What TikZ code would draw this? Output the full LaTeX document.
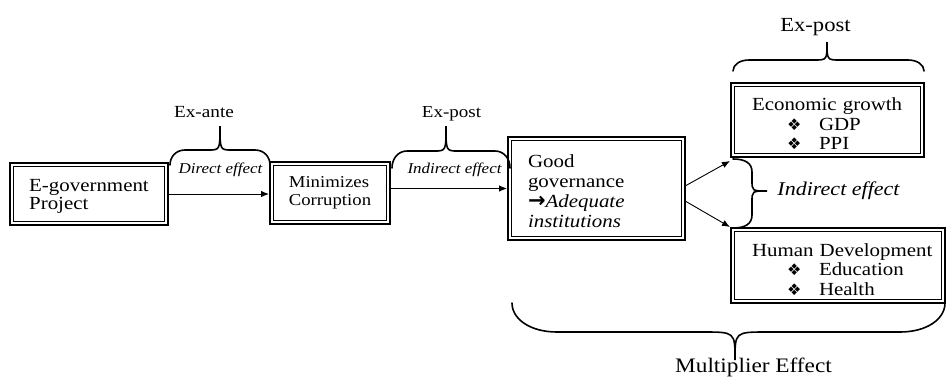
\documentclass[tikz,border=0pt]{standalone}
\usepackage{fontspec}
\setmainfont{Liberation Serif}[FakeStretch=1.13]
\newfontfamily\symfont{DejaVu Sans}
\usetikzlibrary{arrows.meta}
\newcommand\bul{{\symfont\fontsize{16}{16}\selectfont ❖}}
\newcommand\myarr{{\symfont\bfseries\fontsize{21}{21}\selectfont →}}
\newcommand\hbrace[8]{%
  \draw[bracestyle] (#1,#3) .. controls (#1,{#4+0.45*(#3-#4)}) and ({#1+0.4*#7},#4) .. ({#1+#7},#4) -- ({#5-#8},#4)
    .. controls (#5,#4) .. (#5,#6) .. controls (#5,#4) .. ({#5+#8},#4)
    -- ({#2-#7},#4) .. controls ({#2-0.4*#7},#4) and (#2,{#4+0.45*(#3-#4)}) .. (#2,#3);}
\tikzset{
  dbox/.style={draw, line width=2pt, inner sep=0pt,
    path picture={\draw[line width=0.9pt]
      ([shift={(3.5pt,-3.5pt)}]path picture bounding box.north west) rectangle
      ([shift={(-3.5pt,3.5pt)}]path picture bounding box.south east);}},
  conn/.style={line width=0.9pt, -{Latex[length=8pt,width=6.5pt]}},
  bracestyle/.style={line width=1.6pt, line cap=round},
  lbl/.style={inner sep=0pt, anchor=base},
}
\begin{document}
\begin{tikzpicture}[x=1pt,y=-1pt]
\useasboundingbox[fill=white] (0,0) rectangle (947,378);

% boxes
\node[dbox, minimum width=158pt, minimum height=62pt, align=left,
  font=\fontsize{18.5}{17.6}\selectfont] (egov) at (89,194) {\rule{0pt}{17pt}E-government\\Project};
\node[dbox, minimum width=120pt, minimum height=62pt, align=left,
  font=\fontsize{16.6}{18}\selectfont] (corr) at (330,193) {Minimizes\\Corruption};
\node[dbox, minimum width=177pt, minimum height=103pt, text width=137pt, align=left,
  font=\fontsize{18.5}{20}\selectfont] (good) at (596.5,188.5)
  {\rule{0pt}{18pt}Good\\governance\\\myarr\textit{Adequate}\\\textit{institutions}};
\node[dbox, minimum width=193pt, minimum height=74pt, text width=151pt, align=left,
  font=\fontsize{18.5}{19.5}\selectfont] (eco) at (827.5,120)
  {\rule{0pt}{21pt}\mbox{Economic growth}\\\hspace*{35pt}\makebox[32pt][l]{\bul}GDP\\\hspace*{35pt}\makebox[32pt][l]{\bul}PPI};
\node[dbox, minimum width=214pt, minimum height=75pt, text width=172pt, align=left,
  font=\fontsize{18.5}{19.5}\selectfont] (hum) at (838,265.5)
  {\rule{0pt}{21pt}\mbox{Human Development}\\\hspace*{35pt}\makebox[32pt][l]{\bul}Education\\\hspace*{35pt}\makebox[32pt][l]{\bul}Health};

% connectors
\draw[conn] (egov.east) -- (egov.east -| corr.west);
\draw[conn] (corr.east |- good.west) -- (good.west);
\draw[conn] ([yshift=3pt]good.east) -- ([yshift=-3pt]eco.south west);
\draw[conn] ([yshift=-13pt]good.east) -- (hum.north west);

% braces
\hbrace{170}{270}{165}{150}{220}{126}{15}{12}
\hbrace{392}{510}{168}{151}{446}{126}{15}{12}
\hbrace{733}{924}{71}{60}{827}{42}{16}{13}
\hbrace{512}{945}{303}{332}{735}{360}{45}{32}
\draw[bracestyle] (733,159) .. controls (745,159) and (752,163) .. (752,172) -- (752,180)
  .. controls (752,191) .. (767,191) .. controls (752,191) .. (752,202)
  -- (752,215) .. controls (752,224) and (745,228) .. (733,228);

% labels
\node[lbl, font=\fontsize{17}{17}\selectfont] (exante) at (204,117) {Ex-ante};
\node[lbl, font=\fontsize{16.8}{17}\selectfont] (expost1) at (451.5,117) {Ex-post};
\node[lbl, font=\fontsize{20}{20}\selectfont] (expost2) at (815.5,31) {Ex-post};
\node[lbl, font=\fontsize{15}{15}\selectfont\itshape] (direct) at (220.5,173) {Direct effect};
\node[lbl, font=\fontsize{15}{15}\selectfont\itshape] (indir1) at (454.5,173) {Indirect effect};
\node[lbl, font=\fontsize{19.5}{19.5}\selectfont\itshape] (indir2) at (838.5,195) {Indirect effect};
\node[lbl, font=\fontsize{20.6}{20.6}\selectfont] (mult) at (753.5,372) {Multiplier Effect};
\end{tikzpicture}
\end{document}
